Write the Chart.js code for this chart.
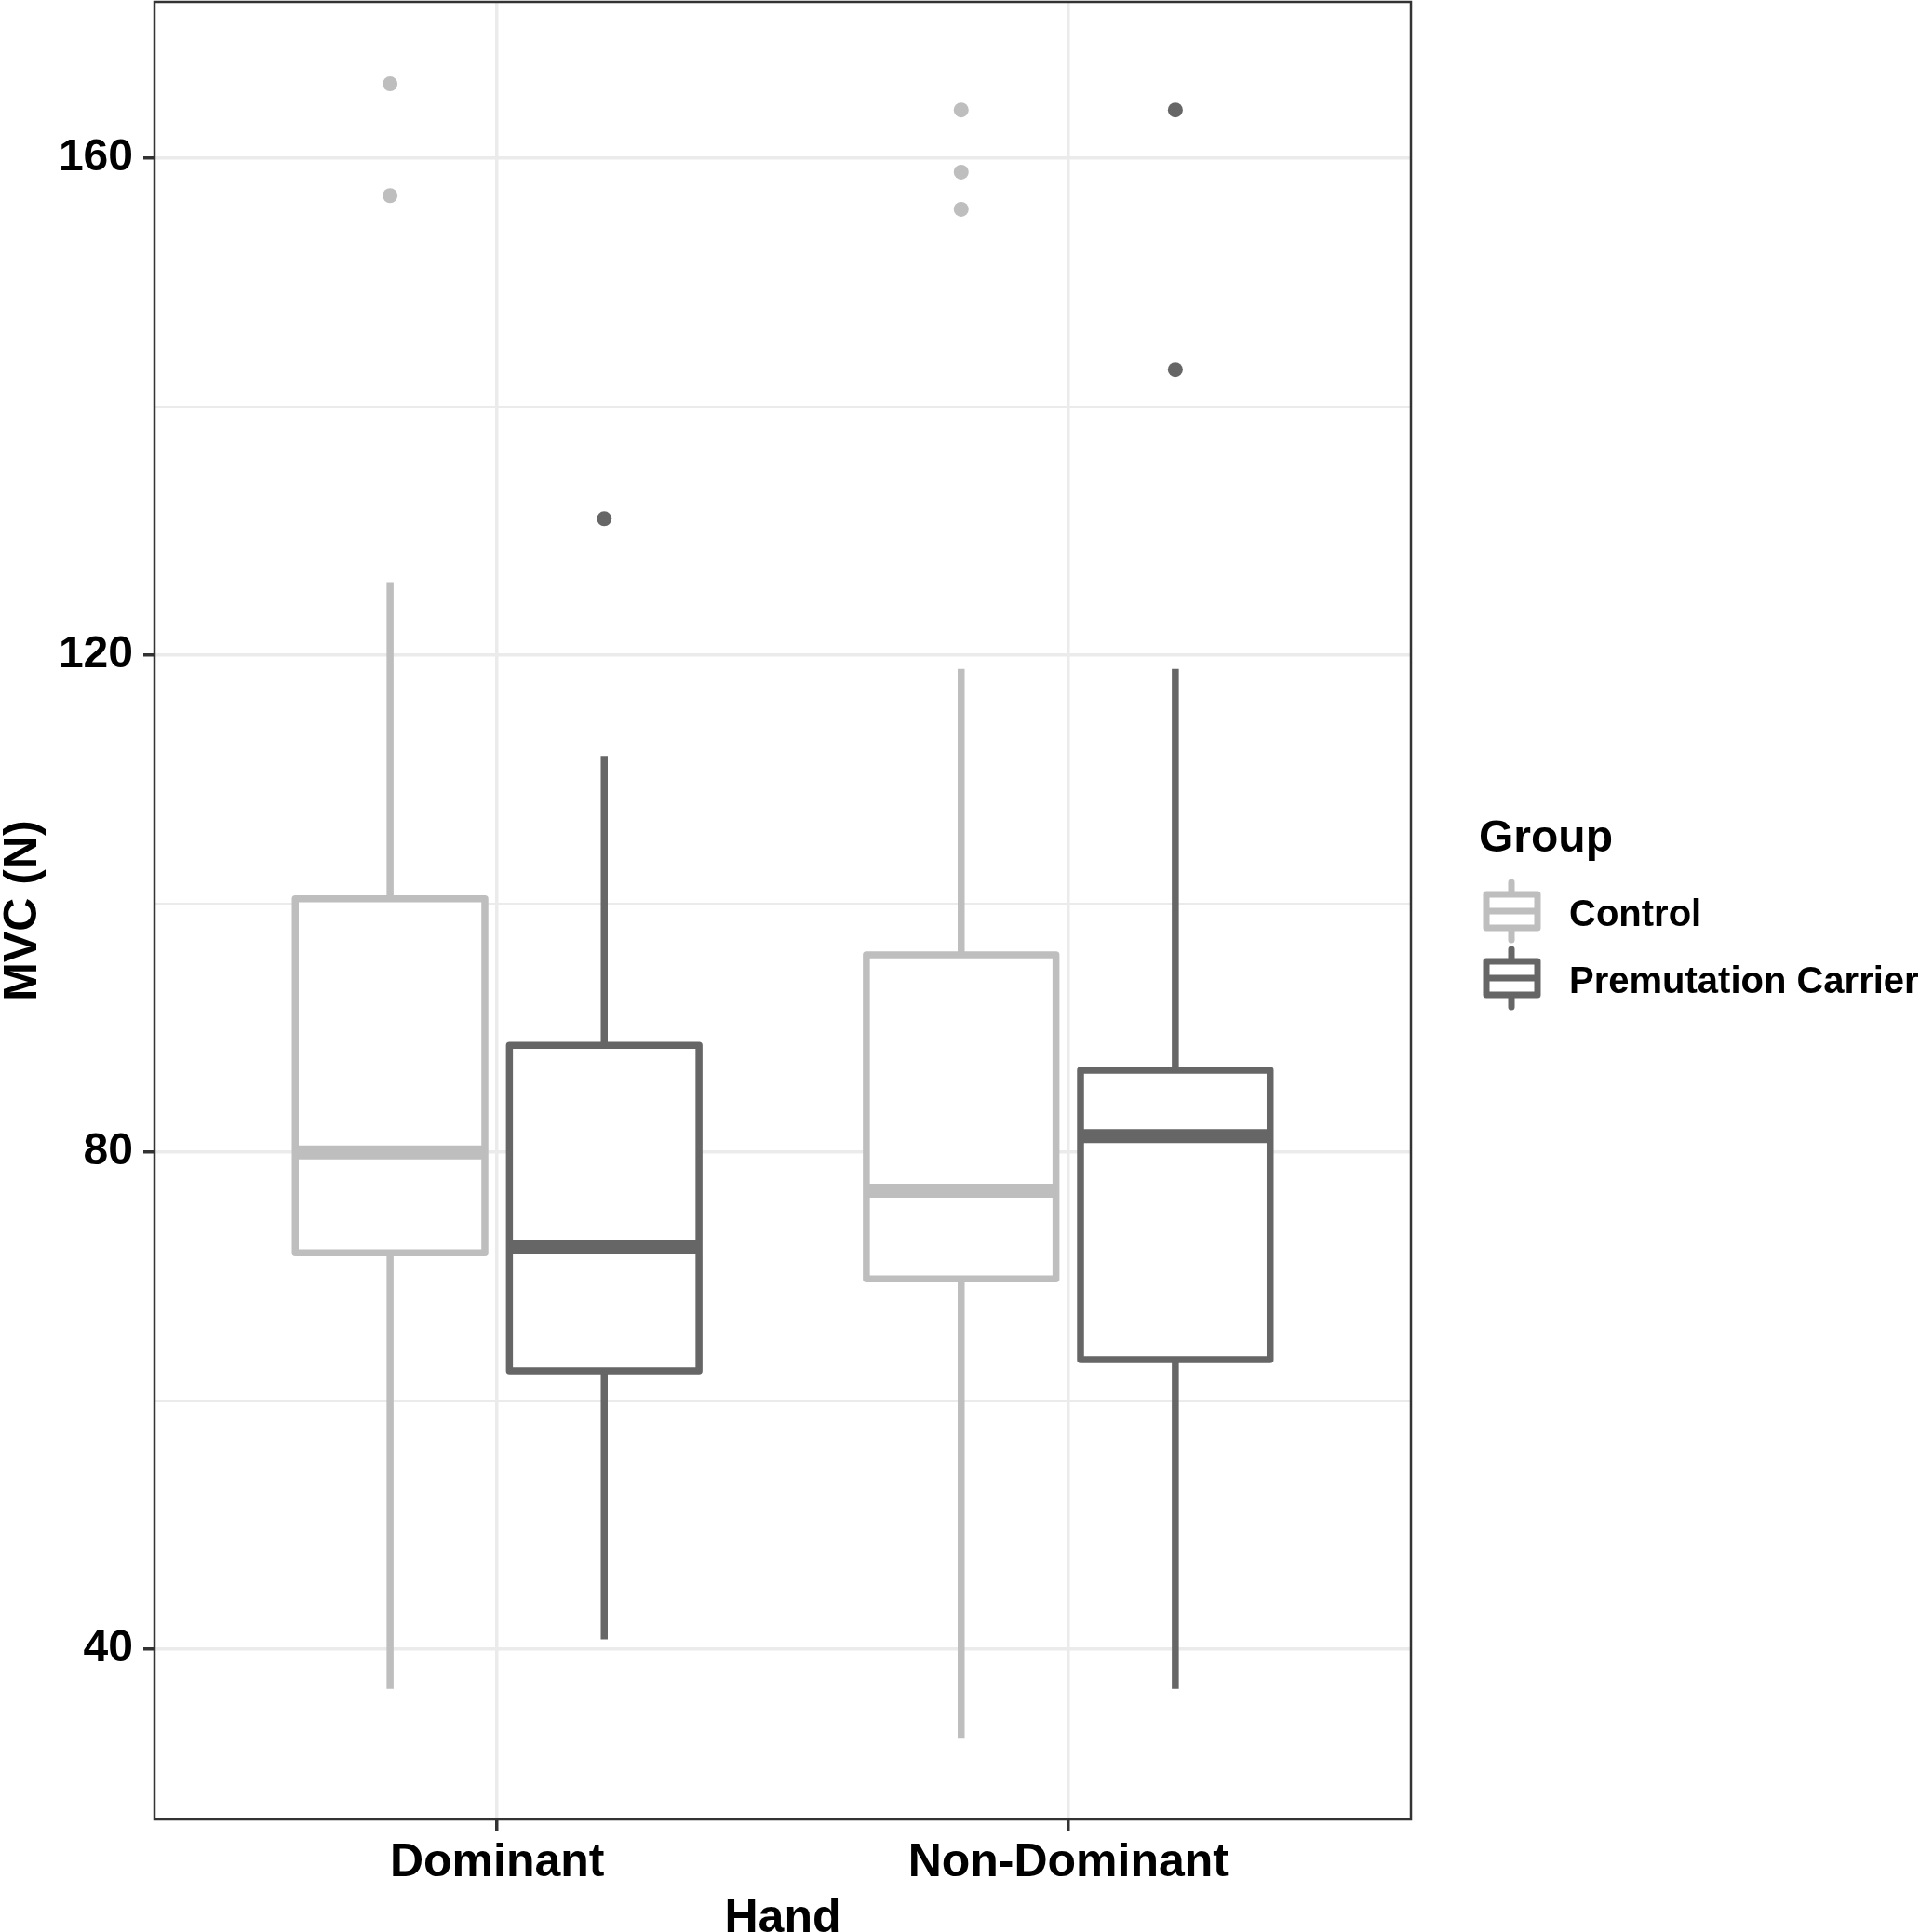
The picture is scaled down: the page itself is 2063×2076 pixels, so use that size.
<!DOCTYPE html>
<html lang="en">
<head>
    <meta charset="UTF-8">
    <title>MVC by Hand and Group</title>
    <style>
        html, body {
            margin: 0;
            padding: 0;
            background: #fff;
            overflow: hidden;
        }
        #wrap {
            width: 2063px;
            height: 2076px;
            position: relative;
        }
    </style>
    <script src="https://cdn.jsdelivr.net/npm/chart.js"></script>
</head>
<body>
    <div id="wrap"><canvas id="mvcChart"></canvas></div>

    <script>
        // categories on the x axis and the two groups in the legend
        const hands = ['Dominant', 'Non-Dominant'];
        const groups = ['Control', 'Premutation Carrier'];
        const groupColors = ['#BEBEBE', '#666666'];

        // box statistics (one value per hand)
        const controlLow = [36.8, 32.8];
        const controlQ1 = [71.9, 69.8];
        const controlMedian = [80.0, 76.9];
        const controlQ3 = [100.4, 95.9];
        const controlHigh = [125.9, 118.9];
        const controlOutliers = [[166.0, 157.0], [163.9, 158.9, 155.9]];

        const carrierLow = [40.8, 36.8];
        const carrierQ1 = [62.4, 63.3];
        const carrierMedian = [72.4, 81.3];
        const carrierQ3 = [88.6, 86.6];
        const carrierHigh = [111.9, 118.9];
        const carrierOutliers = [[131.0], [163.9, 143.0]];

        // y axis ticks: gridlines every 20, labels every 40
        const yTicks = [40, 60, 80, 100, 120, 140, 160];
        const yLabelTicks = [40, 80, 120, 160];

        const FONT = '"Liberation Sans", Arial, sans-serif';
        const DODGE = 0.1875;     // offset of each group from the category centre
        const HALF_BOX = 0.166;   // half box width in category units
        const LINE_W = 7.5;
        const MEDIAN_W = 15;

        const stats = [
            { low: controlLow, q1: controlQ1, med: controlMedian, q3: controlQ3, high: controlHigh, out: controlOutliers },
            { low: carrierLow, q1: carrierQ1, med: carrierMedian, q3: carrierQ3, high: carrierHigh, out: carrierOutliers }
        ];

        // build line / scatter datasets that together draw the boxplots
        function buildDatasets() {
            const sets = [];
            stats.forEach((s, g) => {
                const color = groupColors[g];
                hands.forEach((h, i) => {
                    const x = i + 1 + (g === 0 ? -DODGE : DODGE);
                    const line = (pts, width, order, extra) => Object.assign({
                        data: pts,
                        showLine: true,
                        borderColor: color,
                        borderWidth: width,
                        borderCapStyle: 'butt',
                        pointRadius: 0,
                        pointHoverRadius: 0,
                        fill: false,
                        order: order
                    }, extra || {});

                    // whiskers
                    sets.push(line([{ x: x, y: s.low[i] }, { x: x, y: s.q1[i] }], LINE_W, 4));
                    sets.push(line([{ x: x, y: s.q3[i] }, { x: x, y: s.high[i] }], LINE_W, 4));
                    // box
                    sets.push(line([
                        { x: x - HALF_BOX, y: s.q1[i] },
                        { x: x + HALF_BOX, y: s.q1[i] },
                        { x: x + HALF_BOX, y: s.q3[i] },
                        { x: x - HALF_BOX, y: s.q3[i] },
                        { x: x - HALF_BOX, y: s.q1[i] }
                    ], LINE_W, 3, { fill: 'shape', backgroundColor: '#FFFFFF', borderJoinStyle: 'round' }));
                    // median
                    sets.push(line([{ x: x - HALF_BOX, y: s.med[i] }, { x: x + HALF_BOX, y: s.med[i] }], MEDIAN_W, 2));
                    // outliers
                    sets.push({
                        data: s.out[i].map(v => ({ x: x, y: v })),
                        showLine: false,
                        pointRadius: 8,
                        pointHoverRadius: 8,
                        pointBorderWidth: 0,
                        backgroundColor: color,
                        borderColor: color,
                        order: 1
                    });
                });
            });
            return sets;
        }

        // panel border like theme_bw
        const borderPlugin = {
            id: 'panelBorder',
            afterDatasetsDraw(chart) {
                const { ctx, chartArea: a } = chart;
                ctx.save();
                ctx.strokeStyle = '#333333';
                ctx.lineWidth = 2.5;
                ctx.strokeRect(a.left, a.top, a.right - a.left, a.bottom - a.top);
                ctx.restore();
            }
        };

        // legend with boxplot keys
        const legendPlugin = {
            id: 'groupLegend',
            afterDraw(chart) {
                const ctx = chart.ctx;
                const x0 = chart.chartArea.right + 72;
                ctx.save();
                ctx.fillStyle = '#000';
                ctx.textBaseline = 'alphabetic';
                ctx.font = 'bold 48px ' + FONT;
                ctx.fillText('Group', x0 + 1, 915);

                groups.forEach((g, i) => {
                    const cy = 979 + i * 72;
                    const kx = x0 + 9;
                    ctx.strokeStyle = groupColors[i];
                    ctx.lineWidth = 7;
                    ctx.lineCap = 'round';
                    ctx.beginPath();
                    ctx.moveTo(kx + 27, cy - 31);
                    ctx.lineTo(kx + 27, cy + 31);
                    ctx.stroke();
                    ctx.fillStyle = '#FFFFFF';
                    ctx.lineJoin = 'round';
                    ctx.fillRect(kx, cy - 18, 55, 36);
                    ctx.strokeRect(kx, cy - 18, 55, 36);
                    ctx.lineCap = 'butt';
                    ctx.beginPath();
                    ctx.moveTo(kx, cy);
                    ctx.lineTo(kx + 55, cy);
                    ctx.stroke();

                    ctx.fillStyle = '#000';
                    ctx.font = 'bold 40px ' + FONT;
                    ctx.fillText(g, x0 + 98, cy + 16);
                });
                ctx.restore();
            }
        };

        new Chart(document.getElementById('mvcChart'), {
            type: 'scatter',
            data: { datasets: buildDatasets() },
            options: {
                responsive: true,
                maintainAspectRatio: false,
                animation: false,
                devicePixelRatio: 1,
                layout: {
                    autoPadding: false,
                    padding: { left: 0, top: 2, right: 547, bottom: 0 }
                },
                plugins: {
                    legend: { display: false },
                    tooltip: { enabled: false }
                },
                scales: {
                    x: {
                        type: 'linear',
                        min: 0.4,
                        max: 2.6,
                        afterBuildTicks: axis => {
                            axis.ticks = hands.map((h, i) => ({ value: i + 1 }));
                        },
                        afterFit: axis => {
                            axis.height = 121;
                            axis.paddingLeft = 0;
                            axis.paddingRight = 0;
                        },
                        border: { display: false },
                        grid: {
                            color: '#EBEBEB',
                            lineWidth: 3.5,
                            tickColor: '#333333',
                            tickLength: 12,
                            tickWidth: 3.5
                        },
                        ticks: {
                            color: '#000',
                            font: { family: FONT, size: 50, weight: 'bold' },
                            padding: 5,
                            maxRotation: 0,
                            autoSkip: false,
                            callback: (v, i) => hands[i]
                        },
                        title: {
                            display: true,
                            text: 'Hand',
                            color: '#000',
                            font: { family: FONT, size: 50, weight: 'bold', lineHeight: 0.56 },
                            padding: 0
                        }
                    },
                    y: {
                        type: 'linear',
                        min: 26.3,
                        max: 172.6,
                        afterBuildTicks: axis => {
                            axis.ticks = yTicks.map(v => ({ value: v }));
                        },
                        afterFit: axis => {
                            axis.width = 166;
                            axis.paddingTop = 0;
                            axis.paddingBottom = 0;
                        },
                        border: { display: false },
                        grid: {
                            color: '#EBEBEB',
                            lineWidth: c => yLabelTicks.includes(c.tick && c.tick.value) ? 3.5 : 2,
                            tickColor: c => yLabelTicks.includes(c.tick && c.tick.value) ? '#333333' : 'rgba(0,0,0,0)',
                            tickLength: 12,
                            tickWidth: 3.5
                        },
                        ticks: {
                            color: '#000',
                            font: { family: FONT, size: 48, weight: 'bold' },
                            padding: 11,
                            autoSkip: false,
                            callback: v => yLabelTicks.includes(v) ? String(v) : ''
                        },
                        title: {
                            display: true,
                            text: 'MVC (N)',
                            color: '#000',
                            font: { family: FONT, size: 50, weight: 'bold', lineHeight: 1 },
                            padding: 0
                        }
                    }
                }
            },
            plugins: [borderPlugin, legendPlugin]
        });
    </script>
</body>
</html>
